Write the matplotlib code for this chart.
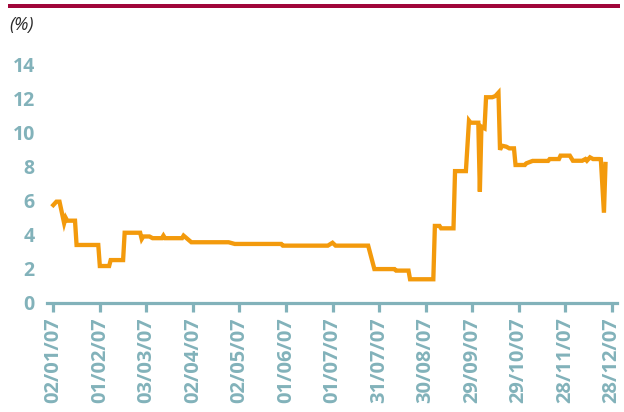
import matplotlib
matplotlib.use("Agg")
import matplotlib.pyplot as plt
import matplotlib.dates as mdates
import numpy as np
import datetime as dt

# ---- data ----
dates = ["2007-01-02", "2007-01-04", "2007-01-06", "2007-01-09", "2007-01-10", "2007-01-11",
         "2007-01-16", "2007-01-17", "2007-01-31", "2007-02-01", "2007-02-07", "2007-02-08",
         "2007-02-16", "2007-02-17", "2007-02-27", "2007-02-28", "2007-03-01", "2007-03-05",
         "2007-03-07", "2007-03-13", "2007-03-14", "2007-03-15", "2007-03-26", "2007-03-27",
         "2007-04-01", "2007-04-25", "2007-04-29", "2007-05-29", "2007-05-30", "2007-06-28",
         "2007-07-01", "2007-07-03", "2007-07-24", "2007-07-28", "2007-08-10", "2007-08-11",
         "2007-08-19", "2007-08-20", "2007-09-04", "2007-09-05", "2007-09-08", "2007-09-09",
         "2007-09-17", "2007-09-18", "2007-09-25", "2007-09-27", "2007-09-28", "2007-10-03",
         "2007-10-04", "2007-10-05", "2007-10-07", "2007-10-08", "2007-10-12", "2007-10-14",
         "2007-10-16", "2007-10-17", "2007-10-18", "2007-10-21", "2007-10-23", "2007-10-26",
         "2007-10-27", "2007-11-02", "2007-11-03", "2007-11-07", "2007-11-17", "2007-11-18",
         "2007-11-24", "2007-11-25", "2007-12-01", "2007-12-03", "2007-12-09", "2007-12-11",
         "2007-12-12", "2007-12-14", "2007-12-16", "2007-12-20", "2007-12-21", "2007-12-23",
         "2007-12-24"]
values = [5.75, 5.95, 5.95, 4.68, 5.00, 4.83,
          4.83, 3.40, 3.40, 2.16, 2.16, 2.51,
          2.51, 4.12, 4.12, 3.75, 3.90, 3.90,
          3.80, 3.80, 3.95, 3.80, 3.80, 3.95,
          3.56, 3.56, 3.46, 3.46, 3.36, 3.36,
          3.53, 3.36, 3.36, 1.98, 1.98, 1.89,
          1.89, 1.38, 1.38, 4.52, 4.52, 4.38,
          4.38, 7.75, 7.75, 10.72, 10.60, 10.60,
          6.54, 10.37, 10.27, 12.10, 12.10, 12.17,
          12.37, 9.00, 9.25, 9.19, 9.09, 9.09,
          8.11, 8.11, 8.21, 8.35, 8.35, 8.46,
          8.46, 8.66, 8.66, 8.36, 8.36, 8.46,
          8.36, 8.56, 8.46, 8.46, 8.45, 5.30,
          8.17]
tick_dates = ["2007-01-02", "2007-02-01", "2007-03-03", "2007-04-02", "2007-05-02",
              "2007-06-01", "2007-07-01", "2007-07-31", "2007-08-30", "2007-09-29",
              "2007-10-29", "2007-11-28", "2007-12-28"]
tick_labels = ["02/01/07", "01/02/07", "03/03/07", "02/04/07", "02/05/07", "01/06/07",
               "01/07/07", "31/07/07", "30/08/07", "29/09/07", "29/10/07", "28/11/07",
               "28/12/07"]
y_ticks = [0, 2, 4, 6, 8, 10, 12, 14]

axis_col = "#82B2BA"
line_col = "#F39A0C"
bar_col = "#A0063A"

W, H = 624, 412
fig = plt.figure(figsize=(W / 100, H / 100), dpi=100)
fig.patch.set_facecolor("white")

# axes placement in pixels
x_left, x_right = 47.3, 616.7
y_zero, px_per_unit = 302.7, 16.98
ymax = 15.0
y_top = y_zero - ymax * px_per_unit
ax = fig.add_axes([x_left / W, (H - y_zero) / H, (x_right - x_left) / W, (y_zero - y_top) / H])

d = [dt.datetime.strptime(s, "%Y-%m-%d") for s in dates]
td = [dt.datetime.strptime(s, "%Y-%m-%d") for s in tick_dates]

ax.plot(d, values, color=line_col, lw=3.1, solid_joinstyle="miter", zorder=3)

t0 = td[0]
px_per_day = (611.7 - 53.3) / 360.0
ax.set_xlim(t0 - dt.timedelta(days=(53.3 - x_left) / px_per_day),
            t0 + dt.timedelta(days=360 + (x_right - 611.7) / px_per_day))
ax.set_ylim(0, ymax)

for s in ["top", "right", "left"]:
    ax.spines[s].set_visible(False)
ax.spines["bottom"].set_color(axis_col)
ax.spines["bottom"].set_linewidth(2.3)

ax.set_xticks(td)
ax.set_xticklabels(tick_labels, rotation=90, fontsize=14.5, color=axis_col,
                   fontweight="bold", family=["Open Sans", "DejaVu Sans"])
ax.tick_params(axis="x", direction="out", length=6.5, width=2.3, color=axis_col, pad=4)

ax.set_yticks(y_ticks)
ax.set_yticklabels([str(v) for v in y_ticks], fontsize=14, color=axis_col,
                   fontweight="bold", family=["Open Sans", "DejaVu Sans"])
ax.tick_params(axis="y", length=0, pad=9)

# top burgundy rule
fig.add_artist(plt.Rectangle((8 / W, (H - 7.5) / H), (620 - 8) / W, 3.5 / H,
                             transform=fig.transFigure, color=bar_col, lw=0))
fig.text(9 / W, (H - 25) / H, "(%)", fontsize=13, style="italic", color="#2b2b2b",
         va="center", ha="left", family=["Open Sans", "DejaVu Sans"])

fig.savefig("out.png", dpi=100, facecolor="white")
